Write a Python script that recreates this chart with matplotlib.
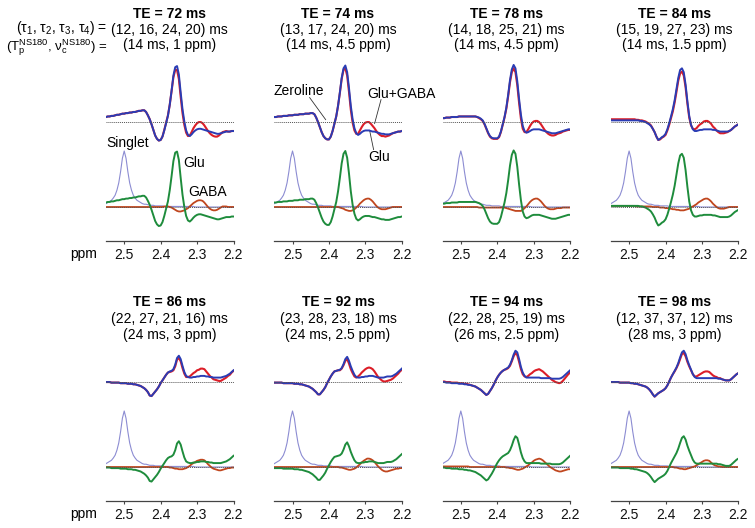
import numpy as np
import matplotlib
matplotlib.use('Agg')
import matplotlib.pyplot as plt

plt.rcParams['font.family'] = ['Liberation Sans', 'DejaVu Sans']
plt.rcParams['mathtext.fontset'] = 'custom'
plt.rcParams['mathtext.rm'] = 'Liberation Sans'
plt.rcParams['mathtext.it'] = 'Liberation Sans:italic'
plt.rcParams['mathtext.bf'] = 'Liberation Sans:bold'

# ---------------- data ----------------
PPM = np.linspace(2.55, 2.20, 71)          # chemical shift grid (ppm)
TICKS = [2.5, 2.4, 2.3, 2.2]
TICK_LABELS = ["2.5", "2.4", "2.3", "2.2"]

TE = [72, 74, 78, 84, 86, 92, 94, 98]
TAUS = ["(12, 16, 24, 20) ms", "(13, 17, 24, 20) ms", "(14, 18, 25, 21) ms",
        "(15, 19, 27, 23) ms", "(22, 27, 21, 16) ms", "(23, 28, 23, 18) ms",
        "(22, 28, 25, 19) ms", "(12, 37, 37, 12) ms"]
PULSE = ["(14 ms, 1 ppm)", "(14 ms, 4.5 ppm)", "(14 ms, 4.5 ppm)", "(14 ms, 1.5 ppm)",
         "(24 ms, 3 ppm)", "(24 ms, 2.5 ppm)", "(26 ms, 2.5 ppm)", "(28 ms, 3 ppm)"]

# amplitudes in % of singlet peak
SINGLET = [6, 8, 10, 12, 16, 21, 30, 43, 63, 87,
           100, 87, 63, 43, 30, 21, 16, 12, 10, 8,
           6, 5, 5, 4, 3, 3, 3, 2, 2, 2,
           2, 2, 1, 1, 1, 1, 1, 1, 1, 1,
           1, 1, 1, 1, 1, 1, 1, 1, 1, 0,
           0, 0, 0, 0, 0, 0, 0, 0, 0, 0,
           0, 0, 0, 0, 0, 0, 0, 0, 0, 0, 0]

GLU_72 = [8, 9, 9, 10, 10, 11, 12, 12, 13, 14,
          14, 15, 15, 16, 16, 17, 17, 18, 19, 19,
          20, 20, 17, 11, 4, -5, -15, -25, -31, -34,
          -33, -27, -16, -3, 10, 30, 55, 82, 97, 99,
          84, 52, 22, 0, -16, -24, -26, -23, -19, -16,
          -14, -13, -13, -14, -15, -16, -17, -18, -19, -20,
          -21, -22, -22, -21, -20, -19, -18, -18, -18, -17, -17]
GABA_72 = [0, 0, 0, 0, 0, 0, 0, 0, 0, 0,
           0, 0, 0, 0, 0, 0, 0, 0, 0, 0,
           0, 0, 0, 0, 0, 0, 0, 0, 0, 0,
           0, 0, 1, 1, 1, 0, -1, -3, -5, -7,
           -8, -8, -7, -6, -4, -2, 1, 4, 7, 9,
           11, 12, 12, 11, 8, 4, 0, -3, -5, -6,
           -6, -5, -3, -1, 1, 1, 1, 0, 0, 0, 0]

GLU_74 = [8, 8, 9, 9, 9, 10, 10, 10, 11, 11,
          11, 12, 12, 12, 13, 13, 13, 14, 14, 14,
          15, 15, 13, 7, -1, -10, -19, -26, -30, -32,
          -32, -27, -17, -4, 9, 28, 52, 78, 95, 100,
          88, 60, 28, 4, -12, -21, -24, -22, -19, -17,
          -16, -16, -16, -17, -18, -18, -19, -20, -21, -22,
          -22, -23, -23, -23, -22, -21, -20, -19, -18, -18, -17]
GABA_74 = [0, 0, 0, 0, 0, 0, 0, 0, 0, 0,
           0, 0, 0, 0, 0, 0, 0, 0, 0, 0,
           0, 0, 0, 0, 0, 0, 0, 0, 0, 0,
           0, 0, 0, 0, 0, 0, -1, -2, -3, -5,
           -6, -7, -7, -6, -4, -1, 2, 6, 9, 12,
           14, 15, 15, 13, 10, 6, 2, -1, -3, -4,
           -4, -4, -3, -2, -1, 0, 0, 0, 0, 0, 0]

GLU_78 = [6, 6, 7, 7, 7, 8, 8, 8, 8, 9,
          9, 9, 9, 9, 9, 9, 9, 9, 9, 8,
          7, 5, 2, -4, -12, -20, -26, -29, -30, -30,
          -30, -27, -18, -5, 8, 25, 48, 74, 93, 101,
          95, 72, 40, 12, -8, -17, -20, -19, -17, -15,
          -14, -14, -14, -14, -15, -16, -17, -18, -19, -20,
          -21, -21, -21, -20, -19, -18, -17, -16, -15, -14, -14]
GABA_78 = [0, 0, 0, 0, 0, 0, 0, 0, 0, 0,
           0, 0, 0, 0, 0, 0, 0, 0, 0, 0,
           -1, -1, -1, -1, -1, -1, -1, -1, -1, -1,
           -1, -1, -1, -1, -1, -2, -3, -4, -5, -6,
           -7, -7, -7, -7, -5, -2, 1, 5, 9, 12,
           14, 15, 15, 13, 10, 6, 2, -1, -3, -4,
           -4, -4, -3, -2, -2, -2, -1, -1, -1, -1, -1]

GLU_84 = [2, 2, 2, 2, 2, 2, 2, 2, 2, 2,
          2, 2, 2, 2, 2, 2, 1, 1, 0, -1,
          -3, -5, -8, -13, -19, -27, -33, -31, -28, -26,
          -22, -14, -3, 9, 22, 38, 58, 78, 92, 95,
          88, 66, 36, 10, -6, -14, -17, -17, -16, -15,
          -15, -14, -14, -14, -14, -14, -15, -15, -16, -17,
          -18, -18, -18, -18, -18, -17, -15, -12, -9, -7, -5]
GABA_84 = [2, 2, 2, 2, 2, 2, 2, 2, 2, 2,
           2, 2, 2, 2, 1, 1, 1, 1, 1, 1,
           1, 1, 1, 0, 0, 0, 0, -1, -1, -1,
           -2, -2, -3, -3, -4, -4, -5, -5, -6, -6,
           -6, -5, -4, -3, -1, 1, 3, 5, 8, 10,
           12, 14, 15, 15, 13, 10, 6, 3, 0, -2,
           -3, -3, -3, -2, -1, 0, 0, 0, 0, 0, 0]

GLU_86 = [-1, -1, -1, -2, -2, -2, -2, -2, -3, -3,
          -3, -3, -4, -4, -4, -5, -5, -6, -7, -8,
          -10, -12, -15, -19, -25, -26, -22, -18, -14, -9,
          -3, 2, 7, 12, 16, 18, 19, 22, 30, 42,
          46, 40, 28, 17, 10, 8, 7, 7, 8, 8,
          9, 9, 10, 10, 10, 9, 9, 8, 8, 7,
          7, 7, 7, 7, 8, 9, 10, 12, 14, 17, 20]
GABA_86 = [0, 0, 0, 0, 0, 0, 0, 0, 0, 0,
           0, 0, 0, 0, 0, 0, 0, 0, 0, 0,
           0, 0, 0, 0, 0, 0, 0, 0, 0, 0,
           0, 0, 0, 0, 0, -1, -1, -2, -3, -3,
           -4, -4, -4, -3, -2, 0, 2, 5, 7, 9,
           11, 12, 13, 13, 12, 9, 5, 2, -1, -3,
           -4, -5, -6, -6, -5, -4, -3, -2, -2, -1, -1]

GLU_92 = [-2, -2, -2, -2, -2, -3, -3, -3, -3, -3,
          -3, -4, -4, -4, -5, -5, -6, -7, -8, -9,
          -11, -13, -16, -19, -23, -23, -19, -15, -10, -3,
          3, 9, 14, 18, 19, 20, 21, 24, 31, 40,
          44, 37, 27, 19, 12, 8, 7, 7, 8, 8,
          9, 9, 10, 10, 10, 9, 8, 7, 7, 7,
          7, 8, 9, 9, 9, 10, 12, 14, 17, 20, 23]
GABA_92 = [0, 0, 0, 0, 0, 0, 0, 0, 0, 0,
           0, 0, 0, 0, 0, 0, 0, 0, 0, 0,
           0, 0, 0, 0, 0, 0, 0, 0, 0, 0,
           0, 0, 0, 0, 0, 0, -1, -1, -2, -3,
           -4, -5, -5, -4, -3, -1, 2, 5, 8, 11,
           13, 15, 15, 14, 12, 9, 5, 1, -2, -5,
           -7, -8, -8, -7, -6, -5, -4, -3, -3, -2, -2]

GLU_94 = [-1, -1, -2, -2, -2, -3, -3, -3, -3, -4,
          -4, -4, -5, -5, -6, -6, -7, -8, -9, -11,
          -13, -15, -18, -21, -24, -22, -17, -12, -6, 1,
          7, 12, 16, 19, 21, 23, 25, 30, 38, 48,
          55, 52, 40, 26, 16, 10, 7, 7, 7, 7,
          7, 7, 7, 7, 6, 6, 6, 6, 6, 6,
          5, 5, 5, 5, 5, 6, 8, 11, 14, 17, 20]
GABA_94 = [1, 1, 1, 1, 1, 1, 1, 1, 1, 1,
           1, 1, 1, 1, 1, 0, 0, 0, 0, 0,
           0, 0, 0, 0, 0, 0, 0, 0, 0, 0,
           0, 0, 0, 0, 0, -1, -1, -2, -2, -3,
           -4, -5, -5, -4, -3, -1, 1, 3, 6, 8,
           11, 13, 14, 15, 14, 12, 9, 6, 3, 0,
           -2, -4, -6, -7, -8, -8, -7, -6, -5, -4, -4]

GLU_98 = [-1, -1, -1, -1, -1, -2, -2, -2, -2, -2,
          -2, -3, -3, -4, -4, -5, -6, -7, -8, -9,
          -11, -14, -18, -23, -27, -24, -21, -19, -17, -15,
          -12, -7, 0, 7, 13, 19, 25, 33, 43, 52,
          55, 49, 38, 29, 21, 13, 8, 6, 6, 6,
          6, 6, 6, 6, 6, 6, 6, 6, 6, 5,
          5, 4, 3, 2, 2, 2, 4, 7, 10, 13, 15]
GABA_98 = [0, 0, 0, 0, 0, 0, 0, 0, 0, 0,
           0, 0, 0, 0, 0, 0, 0, 0, 0, 0,
           0, 0, 0, 0, 0, 0, 0, 0, 0, 0,
           0, 0, 0, 0, 0, -1, -1, -2, -3, -3,
           -4, -4, -3, -2, -1, 0, 1, 3, 5, 7,
           9, 11, 12, 12, 11, 8, 5, 3, 2, 1,
           1, 0, 0, 0, 0, 0, 0, 0, 0, 0, 0]

GLU = [GLU_72, GLU_74, GLU_78, GLU_84, GLU_86, GLU_92, GLU_94, GLU_98]
GABA = [GABA_72, GABA_74, GABA_78, GABA_84, GABA_86, GABA_92, GABA_94, GABA_98]

# ---------------- styling / layout ----------------
W, H = 755, 528
C_RED = '#dc1e28'
C_BLUE = '#2a3cb4'
C_GREEN = '#1e8c3c'
C_GABA = '#c0461e'
C_SING = '#8c8cd2'
C_ZERO = '#555555'

PX_PER_UNIT = 56.0
TOP_OFFSET = 85.5 / PX_PER_UNIT
YMIN = -34.0 / PX_PER_UNIT
YMAX = 2.6
COL_LEFT = [106, 274.3, 442.6, 610.9]
COL_W = 127.5
ROW_AXIS = [241, 501]
TITLE_BASE = [(17.5, 34, 49), (306, 323, 339)]   # text baselines (px from top)

fig = plt.figure(figsize=(W / 100, H / 100), dpi=100)

axes = []
for k in range(8):
    r, c = divmod(k, 4)
    left = COL_LEFT[c]
    bottom_px = ROW_AXIS[r]
    height_px = (YMAX - YMIN) * PX_PER_UNIT
    ax = fig.add_axes([left / W, (H - bottom_px) / H, COL_W / W, height_px / H])
    ax.set_xlim(2.55, 2.20)
    ax.set_ylim(YMIN, YMAX)
    for s in ['top', 'right', 'left']:
        ax.spines[s].set_visible(False)
    ax.spines['bottom'].set_color('#444444')
    ax.spines['bottom'].set_linewidth(0.9)
    ax.set_yticks([])
    ax.set_xticks(TICKS)
    ax.set_xticklabels(TICK_LABELS)
    ax.tick_params(axis='x', length=2.0, width=0.8, color='#444444', pad=3,
                   labelsize=10, labelcolor='#111111')
    ax.patch.set_alpha(0)

    glu = np.array(GLU[k]) / 100.0
    gaba = np.array(GABA[k]) / 100.0
    sing = np.array(SINGLET) / 100.0

    # top: Glu+GABA (red) and Glu (blue)
    ax.axhline(TOP_OFFSET, color=C_ZERO, lw=0.7, ls=(0, (1, 1)), zorder=4)
    ax.plot(PPM, glu + gaba + TOP_OFFSET, color=C_RED, lw=1.5, zorder=2,
            solid_joinstyle='round')
    ax.plot(PPM, glu + TOP_OFFSET, color=C_BLUE, lw=1.4, zorder=3,
            solid_joinstyle='round')
    # bottom: singlet, GABA, Glu
    ax.plot(PPM, sing, color=C_SING, lw=0.8, zorder=1)
    ax.plot(PPM, gaba, color=C_GABA, lw=1.3, zorder=2)
    ax.plot(PPM, glu, color=C_GREEN, lw=1.4, zorder=3)
    ax.axhline(0, color=C_ZERO, lw=0.7, ls=(0, (1, 1)), zorder=4)
    axes.append(ax)

    cx = (left + COL_W / 2) / W
    y1, y2, y3 = TITLE_BASE[r]
    fig.text(cx, 1 - y1 / H, f"TE = {TE[k]} ms", ha='center', va='baseline',
             fontsize=10, fontweight='bold')
    fig.text(cx, 1 - y2 / H, TAUS[k], ha='center', va='baseline', fontsize=10)
    fig.text(cx, 1 - y3 / H, PULSE[k], ha='center', va='baseline', fontsize=10)

# left-hand labels (spaced so their boxes do not collide)
t_tau = fig.text(107 / W, 1 - 34 / H, "(τ$_1$, τ$_2$, τ$_3$, τ$_4$) =", ha='right',
                 va='baseline', fontsize=10)
t_pul = fig.text(107 / W, 1 - 49 / H,
                 "(T$_\\mathrm{p}^\\mathrm{NS180}$, ν$_\\mathrm{c}^\\mathrm{NS180}$) =",
                 ha='right', va='baseline', fontsize=9.5)
renderer = fig.canvas.get_renderer()
b1 = t_tau.get_window_extent(renderer)
b2 = t_pul.get_window_extent(renderer)
overlap = b1.y0 - b2.y1          # display px, positive means gap
if overlap < 0.5:
    shift = (0.5 - overlap) / 2.0
    t_tau.set_y(t_tau.get_position()[1] + shift / H)
    t_pul.set_y(t_pul.get_position()[1] - shift / H)

for yy in (258, 518):
    fig.text(84 / W, 1 - yy / H, "ppm", ha='center', va='baseline', fontsize=10)

# annotations
a1 = axes[0]
a1.text(2.548, 1.14, "Singlet", fontsize=10, va='center', ha='left', clip_on=False)
a1.text(2.339, 0.78, "Glu", fontsize=10, va='center', ha='left', clip_on=False)
a1.text(2.324, 0.27, "GABA", fontsize=10, va='center', ha='left', clip_on=False)

a2 = axes[1]
a2.text(2.552, 2.08, "Zeroline", fontsize=10, va='center', ha='left', clip_on=False)
a2.plot([2.453, 2.409], [1.954, 1.56], color='#333333', lw=0.6, clip_on=False)
a2.text(2.2955, 2.01, "Glu+GABA", fontsize=10, va='center', ha='left', clip_on=False)
a2.plot([2.257, 2.2747], [1.918, 1.49], color='#333333', lw=0.6, clip_on=False)
a2.text(2.292, 0.89, "Glu", fontsize=10, va='center', ha='left', clip_on=False)
a2.plot([2.2774, 2.2884], [1.025, 1.37], color='#333333', lw=0.6, clip_on=False)

fig.savefig('out.png', dpi=100)
